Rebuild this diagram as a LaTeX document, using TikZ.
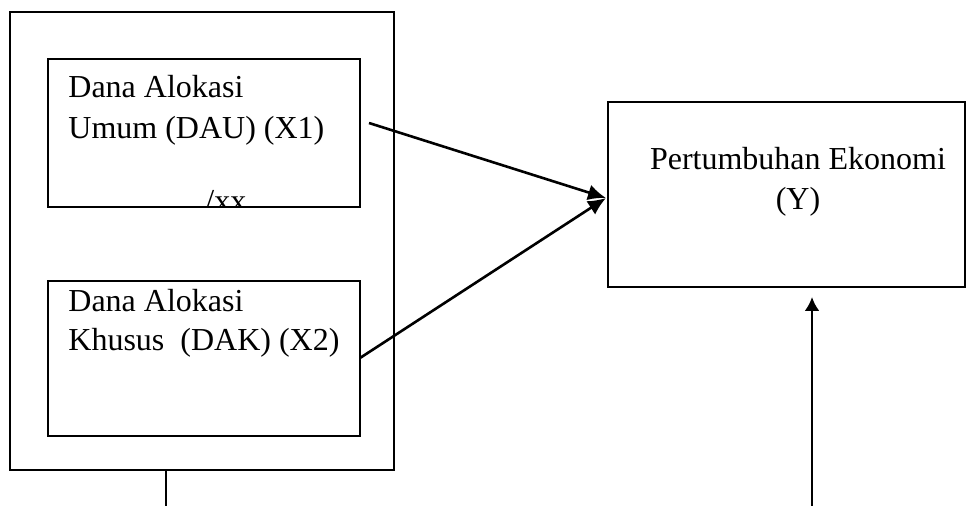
\documentclass[tikz,border=0pt]{standalone}
\usepackage{fontspec}
\setmainfont{Liberation Serif}
\usetikzlibrary{arrows.meta,fit}
\begin{document}
\begin{tikzpicture}[x=0.5pt,y=-0.5pt,
  frame/.style={draw,line width=1.3pt,inner sep=0pt},
  lbl/.style={anchor=base west,inner sep=0pt,font=\fontsize{16pt}{19pt}\selectfont},
  clbl/.style={anchor=base,inner sep=0pt,font=\fontsize{16pt}{19pt}\selectfont},
  link/.style={line width=1.3pt,-{Latex[length=9pt,width=8pt]}},
  rise/.style={line width=1.3pt,-{Latex[length=7pt,width=7.5pt]}}]
\useasboundingbox (0,0) rectangle (978,506);

% outer frame holding both independent variables
\node[frame,fit={(10,12) (394,470)}] (outer) {};
% X1 and X2 boxes
\node[frame,fit={(48,59) (360,207)}] (dau) {};
\node[frame,fit={(48,281) (360,436)}] (dak) {};
% dependent variable box
\node[frame,fit={(608,102) (965,287)}] (growth) {};

% labels
\node[lbl] (dau1) at (68,98) {Dana Alokasi};
\node[lbl] (dau2) at (68,139) {Umum (DAU) (X1)};
\begin{scope}
  \clip (48,59) rectangle (360,206);
  \node[lbl] (dau3) at (205,212) {/xx};
\end{scope}
\node[lbl] (dak1) at (68,312) {Dana Alokasi};
\node[lbl] (dak2) at (68,351) {Khusus \ (DAK) (X2)};
\node[clbl] (gr1) at (798,170) {Pertumbuhan Ekonomi};
\node[clbl] (gr2) at (798,210) {(Y)};

% connectors
\coordinate (s1) at (369,123);
\coordinate (s2) at (360,358);
\coordinate (t) at (606,198);
\draw[link] (s1) -- (t);
\draw[link] (s2) -- (t);

\coordinate (b1) at (166,506);
\draw[line width=1.3pt] (outer.south -| b1) -- (b1);

\coordinate (b2) at (812,506);
\coordinate (b2t) at (812,297);
\draw[rise] (b2) -- (b2t);
\end{tikzpicture}
\end{document}
